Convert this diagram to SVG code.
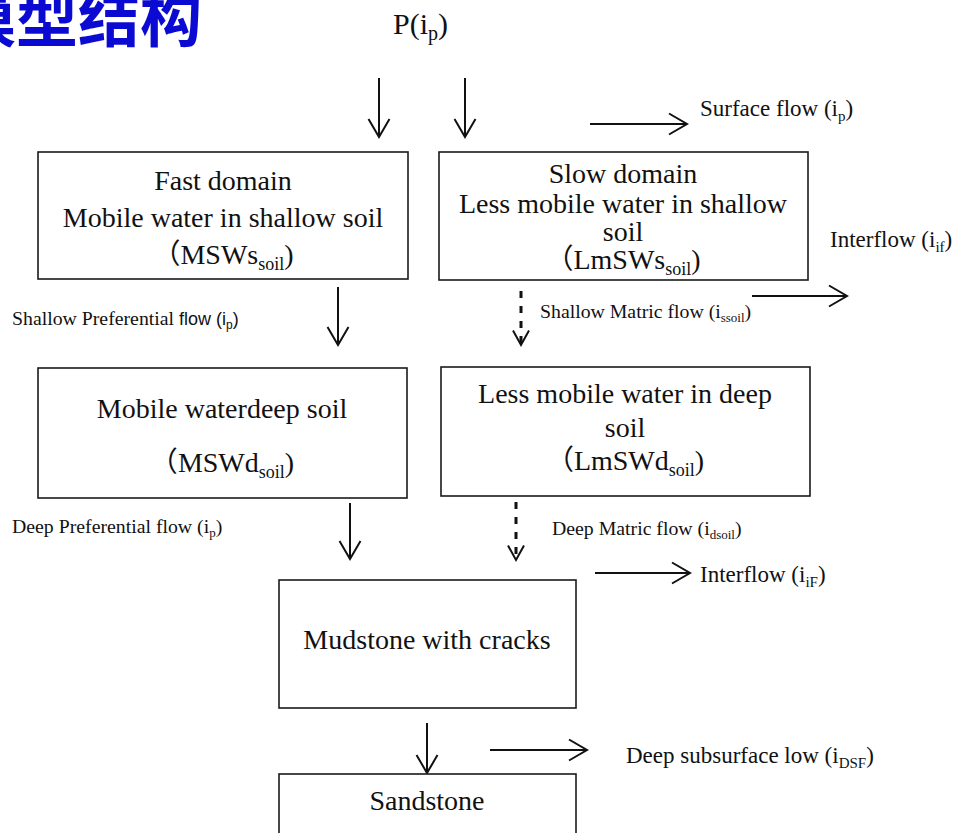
<svg xmlns="http://www.w3.org/2000/svg" width="959" height="833" viewBox="0 0 959 833">
<style>
  .box { fill: #fff; stroke: #1a1a1a; stroke-width: 1.6; }
  .t { font-family: "Liberation Serif", "Times New Roman", serif; fill: #111; }
  .cjk { font-family: "Noto Sans CJK SC", "Liberation Serif", serif; }
  .bt { font-size: 28px; text-anchor: middle; }
  .lbl { font-size: 19.8px; }
  .rl { font-size: 23px; }
  .sans { font-family: "Liberation Sans", "Open Sans", sans-serif; }
  .arr { stroke: #111; stroke-width: 2; fill: none; marker-end: url(#head); }
  .dash { stroke: #111; stroke-width: 3; fill: none; stroke-dasharray: 7 8; marker-end: url(#headS); }
  .title { font-family: "Noto Sans CJK SC", sans-serif; font-size: 62px; fill: #0a0ad2; font-weight: 700; }
</style>
<defs>
  <marker id="head" markerUnits="userSpaceOnUse" viewBox="0 0 22 24" markerWidth="22" markerHeight="24" refX="19.5" refY="12" orient="auto">
    <path d="M1.5,1.5 L19.5,12 L1.5,22.5" fill="none" stroke="#111" stroke-width="2"/>
  </marker>
  <marker id="headS" markerUnits="userSpaceOnUse" viewBox="0 0 18 20" markerWidth="18" markerHeight="20" refX="15.5" refY="10" orient="auto">
    <path d="M1,2 L15.5,10 L1,18" fill="none" stroke="#111" stroke-width="2" stroke-dasharray="none"/>
  </marker>
</defs>

<text class="title" x="-46" y="42">模型结构</text>

<text class="t" x="393" y="34" font-size="30">P(i<tspan font-size="20" dy="6">p</tspan><tspan dy="-6">)</tspan></text>

<g id="connectors">
  <line class="arr" x1="379" y1="78" x2="379" y2="137"/>
  <line class="arr" x1="465" y1="78" x2="465" y2="137"/>
  <line class="arr" x1="590" y1="124" x2="687" y2="124"/>
  <line class="arr" x1="752" y1="296" x2="847" y2="296"/>
  <line class="arr" x1="338" y1="287" x2="338" y2="345"/>
  <line class="dash" x1="521" y1="291" x2="521" y2="345"/>
  <line class="arr" x1="350" y1="503" x2="350" y2="559"/>
  <line class="dash" x1="516" y1="502" x2="516" y2="560"/>
  <line class="arr" x1="595" y1="573" x2="690" y2="573"/>
  <line class="arr" x1="427" y1="723" x2="427" y2="773"/>
  <line class="arr" x1="490" y1="750" x2="587" y2="750"/>
</g>

<g id="labels">
  <text class="t rl" x="700" y="116">Surface flow (i<tspan font-size="15" dy="5">p</tspan><tspan dy="-5">)</tspan></text>
  <text class="t rl" x="830" y="247">Interflow (i<tspan font-size="15" dy="5">if</tspan><tspan dy="-5">)</tspan></text>
  <text class="t lbl" x="12" y="325">Shallow Preferential <tspan class="sans" font-size="18">flow (i</tspan><tspan class="sans" font-size="12" dy="4">p</tspan><tspan class="sans" font-size="18" dy="-4">)</tspan></text>
  <text class="t lbl" x="540" y="318">Shallow Matric flow (i<tspan font-size="13" dy="4">ssoil</tspan><tspan dy="-4">)</tspan></text>
  <text class="t lbl" x="12" y="533">Deep Preferential flow (i<tspan font-size="13" dy="4">p</tspan><tspan dy="-4">)</tspan></text>
  <text class="t lbl" x="552" y="535">Deep Matric flow (i<tspan font-size="13" dy="4">dsoil</tspan><tspan dy="-4">)</tspan></text>
  <text class="t rl" x="700" y="582">Interflow (i<tspan font-size="15" dy="5">iF</tspan><tspan dy="-5">)</tspan></text>
  <text class="t rl" x="626" y="763">Deep subsurface low (i<tspan font-size="15" dy="5">DSF</tspan><tspan dy="-5">)</tspan></text>
</g>

<g id="fast-domain">
  <rect class="box" x="38" y="152" width="370" height="127"/>
  <text class="t bt" x="223" y="190">Fast domain</text>
  <text class="t bt" x="223" y="227">Mobile water in shallow soil</text>
  <text class="t bt" x="223" y="264"><tspan class="cjk">（</tspan>MSWs<tspan font-size="18" dy="6">soil</tspan><tspan dy="-6">)</tspan></text>
</g>

<g id="slow-domain">
  <rect class="box" x="439" y="152" width="369" height="128"/>
  <text class="t bt" x="623" y="183">Slow domain</text>
  <text class="t bt" x="623" y="213">Less mobile water in shallow</text>
  <text class="t bt" x="623" y="241">soil</text>
  <text class="t bt" x="623" y="269"><tspan class="cjk">（</tspan>LmSWs<tspan font-size="18" dy="6">soil</tspan><tspan dy="-6">)</tspan></text>
</g>

<g id="mobile-deep">
  <rect class="box" x="38" y="368" width="369" height="130"/>
  <text class="t bt" x="222" y="418">Mobile waterdeep soil</text>
  <text class="t bt" x="222" y="472"><tspan class="cjk">（</tspan>MSWd<tspan font-size="18" dy="6">soil</tspan><tspan dy="-6">)</tspan></text>
</g>

<g id="less-mobile-deep">
  <rect class="box" x="441" y="367" width="369" height="129"/>
  <text class="t bt" x="625" y="403">Less mobile water in deep</text>
  <text class="t bt" x="625" y="437">soil</text>
  <text class="t bt" x="625" y="470"><tspan class="cjk">（</tspan>LmSWd<tspan font-size="18" dy="6">soil</tspan><tspan dy="-6">)</tspan></text>
</g>

<g id="mudstone">
  <rect class="box" x="279" y="580" width="297" height="128"/>
  <text class="t bt" x="427" y="649">Mudstone with cracks</text>
</g>

<g id="sandstone">
  <rect class="box" x="279" y="774" width="297" height="80"/>
  <text class="t bt" x="427" y="810">Sandstone</text>
</g>
</svg>
